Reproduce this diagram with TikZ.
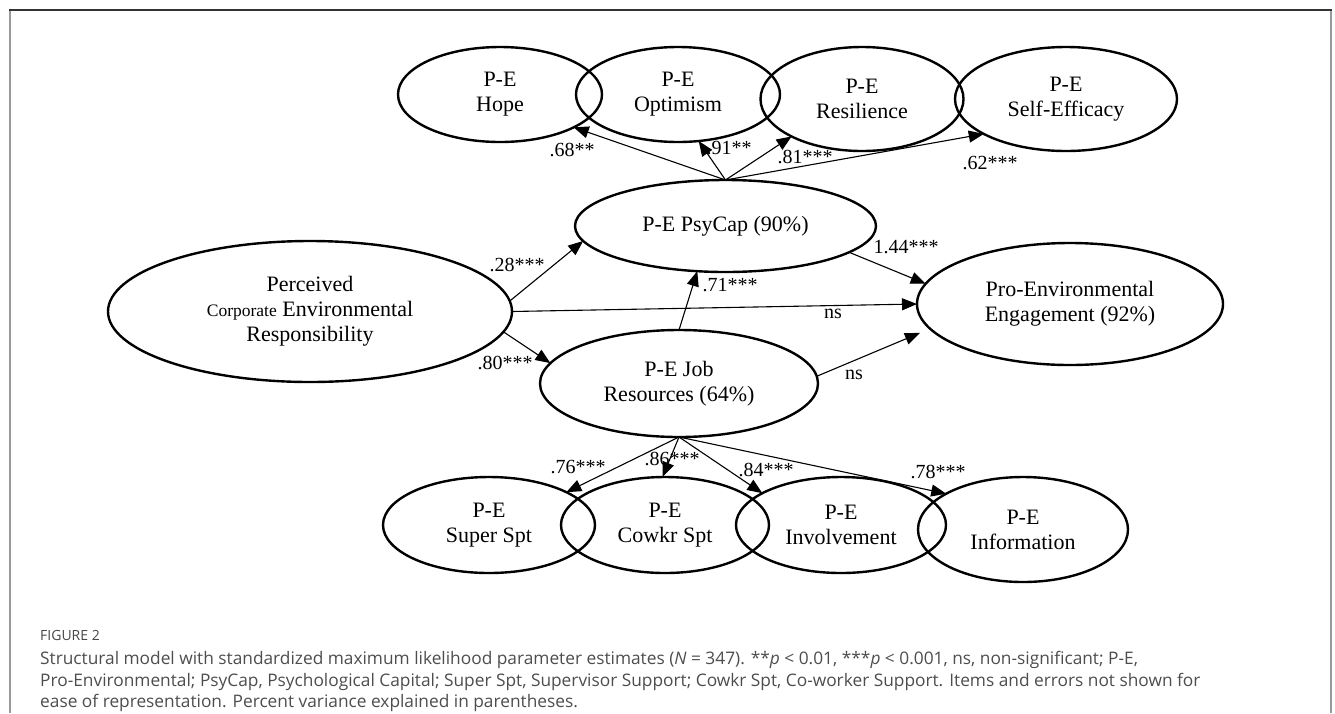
\documentclass[tikz,border=0pt]{standalone}
\usepackage{fontspec}
\setmainfont{Liberation Serif}
\newfontfamily\capfont{Open Sans}
\usetikzlibrary{shapes.geometric,arrows.meta}
\definecolor{capgray}{HTML}{4D4D4D}
\definecolor{framegray}{HTML}{9A9A9A}
\begin{document}
\begin{tikzpicture}[x=1pt,y=-1pt,
  lat/.style={ellipse, draw, line width=2.4pt, inner sep=0pt, outer sep=0pt, align=center,
    font=\fontsize{22}{25}\selectfont},
  pathar/.style={line width=1.1pt, -{Triangle[length=15pt,width=12pt]}},
  coef/.style={font=\fontsize{20}{22}\selectfont, inner sep=0pt},
  captext/.style={anchor=base west, inner sep=0pt, text=capgray, font=\capfont\fontsize{17.3}{20}\selectfont}]
\useasboundingbox (0,0) rectangle (1335,713);
% frame
\draw[framegray, line width=1.4pt] (10,713) -- (10,10);
\draw[framegray, line width=1.4pt] (1331,10) -- (1331,713);
\draw[black!80, line width=1.2pt] (9.3,10) -- (1331.7,10);
% latent variables
\node[lat, minimum width=204pt, minimum height=95pt] (hope) at (500,94.5) {P-E\\Hope};
\node[lat, minimum width=204pt, minimum height=95pt] (opt) at (678,94.5) {P-E\\Optimism};
\node[lat, minimum width=203pt, minimum height=104pt] (res) at (862,99) {P-E\\Resilience};
\node[lat, minimum width=222pt, minimum height=104pt] (self) at (1066,99) {P-E\\Self-Efficacy};
\node[lat, minimum width=301pt, minimum height=92pt] (psy) at (725.5,226) {P-E PsyCap (90\%)};
\node[lat, minimum width=404pt, minimum height=141pt] (cer) at (310,311.5) {Perceived\\{\fontsize{17.5}{25}\selectfont Corporate} Environmental\\Responsibility};
\node[lat, minimum width=278pt, minimum height=107pt] (job) at (679,383.5) {P-E Job\\Resources (64\%)};
\node[lat, minimum width=306pt, minimum height=122pt] (pee) at (1070,304) {Pro-Environmental\\Engagement (92\%)};
\node[lat, minimum width=212pt, minimum height=96pt] (sup) at (489,525) {P-E\\Super Spt};
\node[lat, minimum width=208pt, minimum height=96pt] (cow) at (665,525) {P-E\\Cowkr Spt};
\node[lat, minimum width=210pt, minimum height=96pt] (inv) at (841,525) {P-E\\Involvement};
\node[lat, minimum width=210pt, minimum height=105pt] (inf) at (1023,529.5) {P-E\\Information};
% PsyCap indicators
\draw[pathar] (psy.north) -- (hope.-24);
\draw[pathar] (psy.north) -- (opt.-66);
\draw[pathar] (psy.north) -- (res.-152);
\draw[pathar] (psy.north) -- (self.-157);
% structural paths
\draw[pathar] (cer.3) -- (psy.186);
\draw[pathar] (cer.east) -- (pee.west);
\draw[pathar] (cer.-6) -- (job.171);
\draw[pathar] (job.north) -- (psy.-122);
\draw[pathar] (psy.-12) -- (pee.172);
\draw[pathar, shorten >=11pt] (job.3) -- (pee.-170);
% Job resources indicators
\draw[pathar] (job.south) -- (sup.23);
\draw[pathar] (job.south) -- (cow.93);
\draw[pathar] (job.south) -- (inv.158.6);
\draw[pathar] (job.south) -- (inf.155.8);
% coefficients
\node[coef] (c68) at (572,150) {.68**};
\node[coef] (c91) at (729,148) {.91**};
\node[coef] (c81) at (805,157) {.81***};
\node[coef] (c62) at (990,163) {.62***};
\node[coef] (c28) at (517,265) {.28***};
\node[coef] (c80) at (505,363) {.80***};
\node[coef] (c71) at (730,285) {.71***};
\node[coef] (c144) at (906,247) {1.44***};
\node[coef] (cns1) at (833,314) {ns};
\node[coef] (cns2) at (854,375) {ns};
\node[coef] (c76) at (578,467) {.76***};
\node[coef] (c86) at (672,459) {.86***};
\node[coef] (c84) at (766,470) {.84***};
\node[coef] (c78) at (938,472) {.78***};
% caption
\node[captext, font=\capfont\fontsize{14}{16}\selectfont, text=black!72] (figlab) at (40,640) {FIGURE 2};
\node[captext] (cap1) at (40,664) {Structural model with standardized maximum likelihood parameter estimates (\textit{N} = 347). **\textit{p} < 0.01, ***\textit{p} < 0.001, ns, non-significant; P-E,};
\node[captext] (cap2) at (40,686) {Pro-Environmental; PsyCap, Psychological Capital; Super Spt, Supervisor Support; Cowkr Spt, Co-worker Support. Items and errors not shown for};
\node[captext] (cap3) at (40,707) {ease of representation. Percent variance explained in parentheses.};
\end{tikzpicture}
\end{document}
